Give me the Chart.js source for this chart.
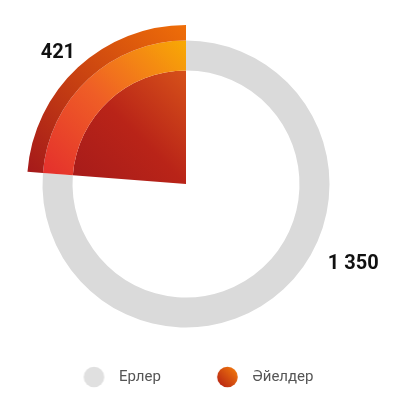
<!DOCTYPE html>
<html>
<head>
<meta charset="utf-8">
<script src="https://cdn.jsdelivr.net/npm/chart.js@4.4.1/dist/chart.umd.min.js"></script>
<style>
  html, body { margin: 0; padding: 0; background: #fff; }
  canvas { display: block; }
</style>
</head>
<body>
<canvas id="genderChart" width="415" height="420"></canvas>
<script>
const categories = ['Ерлер', 'Әйелдер'];
const values = [1350, 421];

const GREY = '#dadada';
const CLEAR = 'rgba(0,0,0,0)';
const RADIUS = 159;

// diagonal gradient across the highlighted slice (top-right -> bottom-left)
function sliceGradient(chart, stops) {
    const area = chart.chartArea;
    if (!area) return stops[stops.length - 1][1];
    const cx = (area.left + area.right) / 2;
    const cy = (area.top + area.bottom) / 2;
    const g = chart.ctx.createLinearGradient(cx, cy - RADIUS, cx - RADIUS, cy);
    stops.forEach(s => g.addColorStop(s[0], s[1]));
    return g;
}

function formatValue(v) {
    return String(v).replace(/\B(?=(\d{3})+(?!\d))/g, ' ');
}

// legend marker: wide transparent canvas with the dot near its right end
function legendDot(i) {
    const c = document.createElement('canvas');
    c.width = 74;
    c.height = 22;
    const x = c.getContext('2d');
    if (i === 0) {
        x.fillStyle = '#e0e0e0';
    } else {
        const g = x.createLinearGradient(67, 1, 46, 21);
        g.addColorStop(0, '#f6800c');
        g.addColorStop(1, '#b21c14');
        x.fillStyle = g;
    }
    x.beginPath();
    x.arc(56.5, 11, 10.3, 0, Math.PI * 2);
    x.fill();
    return c;
}

const valueLabels = {
    id: 'valueLabels',
    afterDatasetsDraw(chart, args, opts) {
        const meta = chart.getDatasetMeta(1);
        const ctx = chart.ctx;
        ctx.save();
        ctx.font = 'bold 20px Roboto';
        ctx.fillStyle = '#111';
        ctx.textAlign = 'center';
        ctx.textBaseline = 'alphabetic';
        meta.data.forEach((arc, i) => {
            const a = arc.startAngle + (arc.endAngle - arc.startAngle) * opts.position[i];
            const x = arc.x + Math.cos(a) * opts.distance;
            const y = arc.y + Math.sin(a) * opts.distance;
            ctx.fillText(formatValue(values[i]), x, y + 7.1);
        });
        ctx.restore();
    }
};

new Chart(document.getElementById('genderChart'), {
    type: 'doughnut',
    data: {
        labels: categories,
        datasets: [{
            // outer band of the slice
            data: values,
            weight: 15.5,
            backgroundColor: ctx => ctx.dataIndex === 0 ? CLEAR :
                sliceGradient(ctx.chart, [[0, '#ef6e08'], [1, '#a2161b']])
        }, {
            // main ring
            data: values,
            weight: 30,
            backgroundColor: ctx => ctx.dataIndex === 0 ? GREY :
                sliceGradient(ctx.chart, [[0, '#f9b200'], [0.5, '#ef5e26'], [1, '#e2262e']])
        }, {
            // inner wedge
            data: values,
            weight: 113.5,
            backgroundColor: ctx => ctx.dataIndex === 0 ? CLEAR :
                sliceGradient(ctx.chart, [[0, '#e2641a'], [0.5, '#b92418'], [1, '#9e171b']])
        }]
    },
    options: {
        responsive: false,
        animation: false,
        events: [],
        radius: RADIUS,
        cutout: 0,
        elements: { arc: { borderWidth: 0 } },
        layout: { padding: { top: 8.5, left: 27.5, right: 70.5, bottom: 25.5 } },
        plugins: {
            tooltip: { enabled: false },
            legend: {
                position: 'bottom',
                align: 'start',
                labels: {
                    usePointStyle: true,
                    pointStyleWidth: 74,
                    padding: 10,
                    color: '#555',
                    font: { family: 'Roboto', size: 15 },
                    generateLabels: () => categories.map((name, i) => ({
                        text: name,
                        pointStyle: legendDot(i),
                        fillStyle: CLEAR,
                        strokeStyle: CLEAR,
                        lineWidth: 0,
                        fontColor: '#555',
                        hidden: false,
                        index: i
                    }))
                }
            },
            valueLabels: { position: [0.419, 0.486], distance: 184.5 }
        }
    },
    plugins: [valueLabels]
});
</script>
</body>
</html>
